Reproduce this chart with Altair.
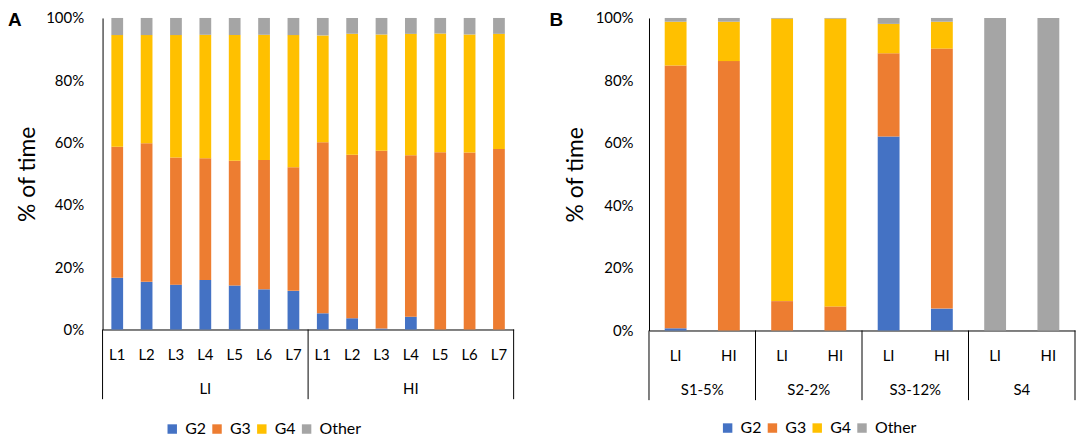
import altair as alt
import pandas as pd

SERIES = ["G2", "G3", "G4", "Other"]
COLORS = ["#4472C4", "#ED7D31", "#FFC000", "#A5A5A5"]

# Panel A
A_GROUPS = ["LI", "HI"]
A_SUBS = ["L1", "L2", "L3", "L4", "L5", "L6", "L7"]
A_G2 = [16.6, 15.3, 14.4, 15.9, 14.1, 12.9, 12.4, 5.2, 3.6, 0.3, 4.1, 0.0, 0.0, 0.0]
A_G3 = [42.1, 44.5, 40.8, 39.1, 40.1, 41.5, 39.7, 54.9, 52.5, 57.1, 51.8, 56.9, 56.8, 57.9]
A_G4 = [35.8, 34.7, 39.3, 39.6, 40.3, 40.2, 42.4, 34.3, 38.8, 37.3, 39.0, 38.1, 37.9, 37.0]
A_OTHER = [5.5, 5.5, 5.5, 5.4, 5.5, 5.4, 5.5, 5.6, 5.1, 5.3, 5.1, 5.0, 5.3, 5.1]

# Panel B
B_GROUPS = ["S1-5%", "S2-2%", "S3-12%", "S4"]
B_SUBS = ["LI", "HI"]
B_G2 = [0.7, 0.0, 0.0, 0.0, 62.1, 7.0, 0.0, 0.0]
B_G3 = [84.1, 86.2, 9.4, 7.7, 26.6, 83.2, 0.0, 0.0]
B_G4 = [14.0, 12.6, 90.4, 92.1, 9.4, 8.6, 0.0, 0.0]
B_OTHER = [1.2, 1.2, 0.2, 0.2, 1.9, 1.2, 100.0, 100.0]

FONT = "Lato"


def long_df(groups, subs, series_vals):
    rows, keys = [], []
    for gi, g in enumerate(groups):
        for si, s in enumerate(subs):
            idx = gi * len(subs) + si
            key = f"{g}|{s}"
            keys.append(key)
            for k, (name, vals) in enumerate(zip(SERIES, series_vals)):
                if vals[idx] > 0:
                    rows.append(dict(key=key, grp=g, sub=s, series=name, ord=k, value=vals[idx]))
    return pd.DataFrame(rows), keys


def panel(groups, subs, series_vals, width, height, letter, letter_x, p_inner,
          y_label_pad, y_title_pad, legend_x, legend_y):
    df, keys = long_df(groups, subs, series_vals)
    n = len(keys)
    ns = len(subs)
    bounds = pd.DataFrame({"pos": [i * ns for i in range(len(groups) + 1)]})
    glabels = pd.DataFrame({"pos": [i * ns + ns / 2 for i in range(len(groups))], "grp": groups})
    qscale = alt.Scale(domain=[0, n], nice=False, zero=False)

    bars = alt.Chart(df).mark_bar().encode(
        x=alt.X("key:N", sort=keys,
                scale=alt.Scale(paddingInner=p_inner, paddingOuter=p_inner / 2),
                axis=alt.Axis(title=None, labelExpr="split(datum.value, '|')[1]",
                              ticks=False, domainColor="black", domainWidth=1,
                              labelAngle=0, labelPadding=18, labelFontSize=15,
                              labelFont=FONT, labelColor="black")),
        y=alt.Y("value:Q", stack="normalize", scale=alt.Scale(domain=[0, 1]),
                axis=alt.Axis(title="% of time", format=".0%",
                              values=[0, 0.2, 0.4, 0.6, 0.8, 1.0],
                              ticks=False, grid=False, domainColor="black", domainWidth=1,
                              labelPadding=y_label_pad, labelFontSize=15, labelFont=FONT,
                              labelColor="black", titleFont=FONT, titleFontSize=23,
                              titleFontWeight="normal", titleColor="black",
                              titlePadding=y_title_pad)),
        color=alt.Color("series:N", scale=alt.Scale(domain=SERIES, range=COLORS),
                        legend=alt.Legend(title=None, orient="none", legendX=legend_x,
                                          legendY=legend_y, direction="horizontal",
                                          columns=4, symbolType="square", symbolSize=90,
                                          symbolStrokeWidth=0, labelFont=FONT,
                                          labelFontSize=16, labelColor="black",
                                          labelOffset=5, columnPadding=3, padding=0)),
        order=alt.Order("ord:Q", sort="ascending"),
    )

    rules = alt.Chart(bounds).mark_rule(color="black", strokeWidth=1).encode(
        x=alt.X("pos:Q", scale=qscale, axis=None),
        y=alt.value(height),
        y2=alt.value(height + 70),
    )

    gtext = alt.Chart(glabels).mark_text(font=FONT, fontSize=15, color="black",
                                         baseline="middle").encode(
        x=alt.X("pos:Q", scale=qscale, axis=None),
        y=alt.value(height + 60),
        text="grp:N",
    )

    letter_mark = alt.Chart(pd.DataFrame({"t": [letter]})).mark_text(
        font="Liberation Sans", fontSize=19, fontWeight="bold", color="black",
        align="left", baseline="middle").encode(
        x=alt.value(letter_x),
        y=alt.value(2),
        text="t:N",
    )

    return alt.layer(bars, rules, gtext, letter_mark).resolve_scale(x="independent").properties(
        width=width, height=height)


chart_a = panel(A_GROUPS, A_SUBS, [A_G2, A_G3, A_G4, A_OTHER], 413, 313, "A", -95, 0.6,
                19, 6, 62, 405)
chart_b = panel(B_GROUPS, B_SUBS, [B_G2, B_G3, B_G4, B_OTHER], 428, 314, "B", -100, 0.59,
                16, 8, 71, 404)

chart = alt.hconcat(chart_a, chart_b, spacing=35).resolve_scale(
    color="independent").properties(
    padding={"top": 2, "left": 0, "right": 0, "bottom": 0}).configure_view(stroke=None)

chart.save("out.html", embed_options={"renderer": "svg", "actions": False})
